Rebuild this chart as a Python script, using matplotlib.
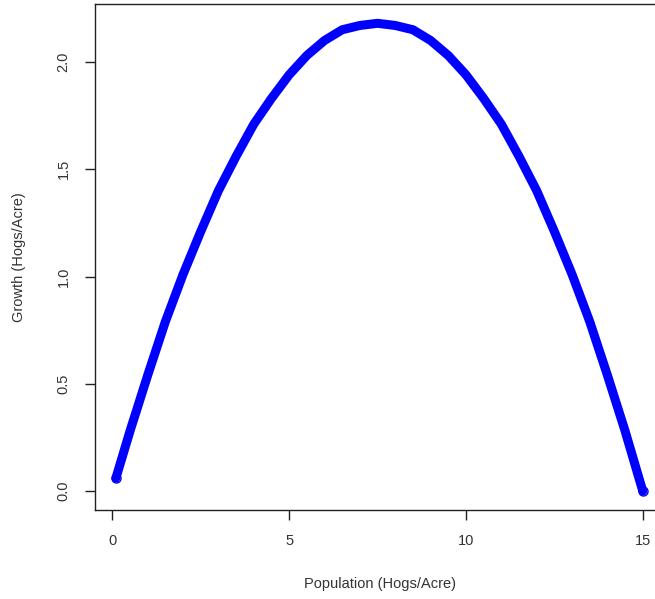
import matplotlib
matplotlib.use('Agg')
import numpy as np
import matplotlib.pyplot as plt

# population (hogs/acre) and growth rate (hogs/acre) along the curve
population = [0.1, 0.5, 1.0, 1.5, 2.0, 2.5, 3.0, 3.5, 4.0, 4.5, 5.0, 5.5, 6.0, 6.5, 7.0, 7.5,
              8.0, 8.5, 9.0, 9.5, 10.0, 10.5, 11.0, 11.5, 12.0, 12.5, 13.0, 13.5, 14.0, 14.5, 15.0]
growth = [0.06, 0.28, 0.54, 0.79, 1.01, 1.21, 1.40, 1.56, 1.71, 1.83, 1.94, 2.03, 2.10, 2.15, 2.17, 2.18,
          2.17, 2.15, 2.10, 2.03, 1.94, 1.83, 1.71, 1.56, 1.40, 1.21, 1.01, 0.79, 0.54, 0.28, 0.00]

x_ticks = [0, 5, 10, 15]
y_ticks = [0.0, 0.5, 1.0, 1.5, 2.0]

plt.rcParams['font.family'] = ['Liberation Sans', 'DejaVu Sans']

W, H = 655, 599
fig = plt.figure(figsize=(W / 100, H / 100), dpi=100)
ax = fig.add_axes([95 / W, (H - 510) / H, (664 - 95) / W, (510 - 4) / H])

# dense open circles blur into a thick band, drawn here as a wide line
ax.plot(population, growth, color='#0000ff', lw=6.5, solid_capstyle='round', solid_joinstyle='round', zorder=2)
ax.plot(population[:1] + population[-1:], growth[:1] + growth[-1:], ls='none', marker='o', ms=6.5,
        mfc='none', mec='#0000ff', mew=1.0, zorder=3)

ax.set_xlim(-0.49, 15.6)
ax.set_ylim(-0.088, 2.27)
ax.set_xticks(x_ticks)
ax.set_xticklabels(['0', '5', '10', '15'])
ax.set_yticks(y_ticks)
ax.set_yticklabels(['0.0', '0.5', '1.0', '1.5', '2.0'], rotation=90, va='center')

for s in ax.spines.values():
    s.set_linewidth(1.0)
    s.set_color('#222222')
ax.tick_params(axis='both', length=7.5, width=1.0, color='#222222', labelcolor='#333333', labelsize=10.5)
ax.tick_params(axis='x', pad=10)
ax.tick_params(axis='y', pad=10)

ax.set_xlabel('Population (Hogs/Acre)', fontsize=10.5, color='#333333', labelpad=21)
ax.set_ylabel('Growth (Hogs/Acre)', fontsize=10.5, color='#333333', labelpad=22)

fig.savefig('out.png', dpi=100)
